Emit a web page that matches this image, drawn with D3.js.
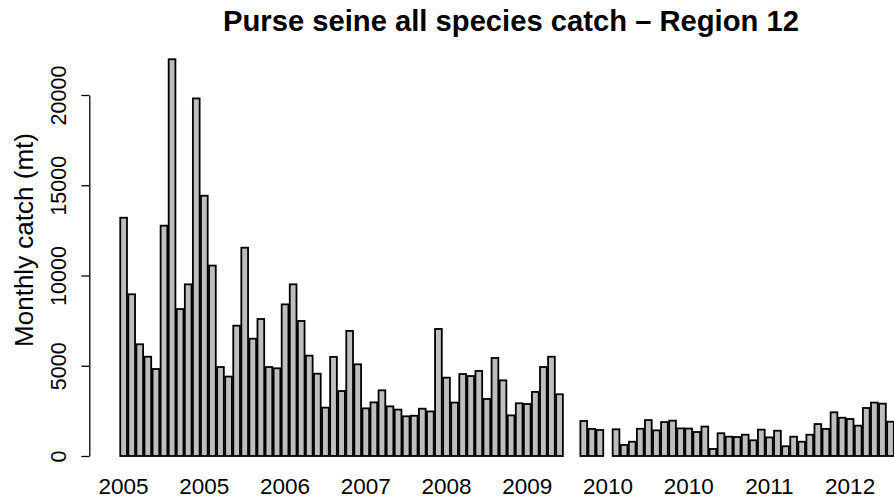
<!DOCTYPE html>
<html>
<head>
<meta charset="utf-8">
<script src="https://cdn.jsdelivr.net/npm/d3@7"></script>
<style>
  html, body { margin: 0; padding: 0; background: #fff; overflow: hidden; }
  svg { display: block; }
  text { font-family: "Liberation Sans", Arial, Helvetica, sans-serif; fill: #000; }
</style>
</head>
<body>
<script>
// Monthly purse seine catch (mt), Jan 2005 - Dec 2012; null = no data that month
const months = d3.timeMonth.range(new Date(2005, 0, 1), new Date(2013, 0, 1))
  .map(d3.timeFormat("%Y-%m"));

const catchMt = [
  13200, 8960, 6190, 5500, 4820, 12760, 21980, 8140, 9510, 19810, 14420, 10550,
  4930, 4400, 7220, 11540, 6500, 7590, 4930, 4860, 8400, 9510, 7480, 5560,
  4560, 2680, 5490, 3600, 6930, 5080, 2640, 2970, 3640, 2750, 2570, 2200,
  2230, 2620, 2470, 7040, 4340, 2960, 4540, 4430, 4710, 3160, 5430, 4190,
  2250, 2920, 2880, 3550, 4930, 5500, 3420, null, null, 1940, 1500, 1440,
  null, 1480, 610, 790, 1510, 1990, 1420, 1880, 1960, 1530, 1520, 1330,
  1630, 390, 1260, 1070, 1050, 1180, 870, 1460, 1030, 1400, 540, 1070,
  790, 1180, 1770, 1500, 2420, 2120, 2050, 1680, 2660, 2960, 2900, 1900
];

// Year labels shown under every tenth bar
const tickMonths = ["2005-01", "2005-11", "2006-09", "2007-07", "2008-05",
                    "2009-03", "2010-01", "2010-11", "2011-09", "2012-07"];
const tickLabels = ["2005", "2005", "2006", "2007", "2008",
                    "2009", "2010", "2010", "2011", "2012"];

const yTicks = [0, 5000, 10000, 15000, 20000];

const chartTitle = "Purse seine all species catch \u2013 Region 12";
const yTitle = "Monthly catch (mt)";

const data = months.map((m, i) => ({ month: m, value: catchMt[i] }));

// ---- layout ----
const width = 930, height = 504;
const plot = { left: 89.3, right: 924.8, yZero: 456, yTop: 95 };

const svg = d3.select("body").append("svg")
  .attr("width", width)
  .attr("height", height);

// barplot-style positions: each bar is 1 unit wide with 0.2 unit spacing
const n = data.length;
const span = n * 1.2 - 0.2;
const pad = 0.04 * span;
const xu = d3.scaleLinear()
  .domain([0.2 - pad, n * 1.2 + pad])
  .range([plot.left, plot.right]);
const barLeft = i => xu(0.2 + i * 1.2);
const barRight = i => xu(1.2 + i * 1.2);
const barCenter = i => xu(0.7 + i * 1.2);

const y = d3.scaleLinear()
  .domain([0, 20000])
  .range([plot.yZero, plot.yTop]);

// bars
svg.append("g")
  .selectAll("rect")
  .data(data.map((d, i) => ({ ...d, i })).filter(d => d.value != null))
  .join("rect")
  .attr("x", d => barLeft(d.i))
  .attr("width", d => barRight(d.i) - barLeft(d.i))
  .attr("y", d => y(d.value))
  .attr("height", d => y(0) - y(d.value))
  .attr("fill", "#bebebe")
  .attr("stroke", "#000")
  .attr("stroke-width", 1.8);

// y axis
const yAxis = svg.append("g")
  .attr("transform", `translate(${plot.left},0)`)
  .call(d3.axisLeft(y).tickValues(yTicks).tickSize(8).tickSizeOuter(0).tickFormat(d3.format("d")));
yAxis.select(".domain").attr("stroke", "#000").attr("stroke-width", 1.3);
yAxis.selectAll(".tick line").attr("stroke", "#000").attr("stroke-width", 1.3);
yAxis.selectAll(".tick text")
  .attr("font-size", 21.5)
  .attr("text-anchor", "middle")
  .attr("x", 0).attr("dy", 0)
  .attr("transform", "translate(-23,0) rotate(-90)");

// x labels (years)
const monthIndex = new Map(months.map((m, i) => [m, i]));
svg.append("g")
  .selectAll("text")
  .data(tickMonths)
  .join("text")
  .attr("x", m => barCenter(monthIndex.get(m)))
  .attr("y", 494)
  .attr("text-anchor", "middle")
  .attr("font-size", 22.5)
  .text((m, i) => tickLabels[i]);

// y title
svg.append("text")
  .attr("transform", "translate(33,240) rotate(-90)")
  .attr("text-anchor", "middle")
  .attr("font-size", 26)
  .text(yTitle);

// title
svg.append("text")
  .attr("x", 511)
  .attr("y", 31)
  .attr("text-anchor", "middle")
  .attr("font-size", 29.2)
  .attr("font-weight", "bold")
  .text(chartTitle);
</script>
</body>
</html>
